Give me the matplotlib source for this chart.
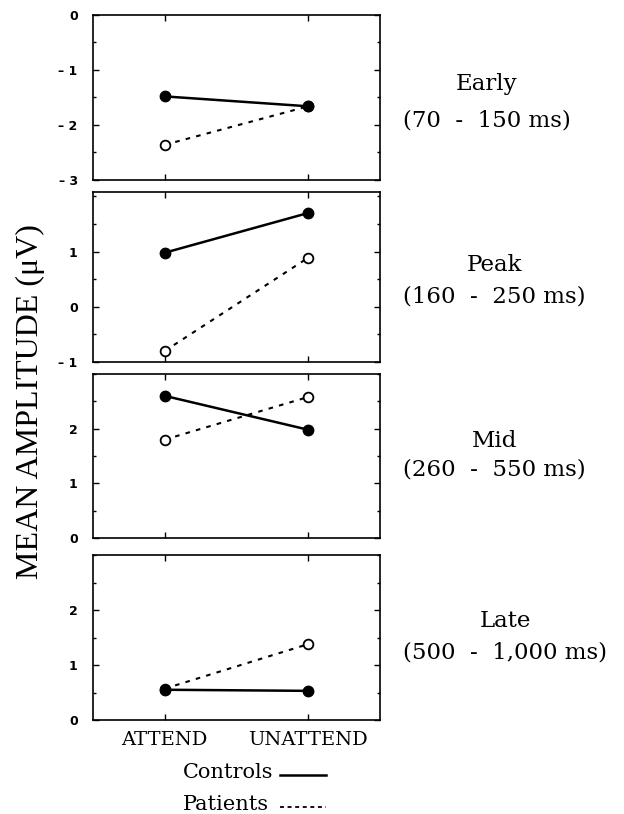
import numpy as np
import matplotlib.pyplot as plt
from matplotlib.ticker import MultipleLocator

# mean amplitudes (uV)
conditions = ['ATTEND', 'UNATTEND']
windows = ['Early', 'Peak', 'Mid', 'Late']
ranges = ['(70  -  150 ms)', '(160  -  250 ms)', '(260  -  550 ms)', '(500  -  1,000 ms)']
controls = [[-1.48, -1.66], [0.98, 1.70], [2.60, 1.98], [0.55, 0.53]]
patients = [[-2.36, -1.66], [-0.80, 0.89], [1.80, 2.58], [0.57, 1.38]]
ylims = [(-3, 0), (-1, 2.08), (0, 3), (0, 3)]
yticks = [[-3, -2, -1, 0], [-1, 0, 1], [0, 1, 2], [0, 1, 2]]

W, H = 624, 814
fig = plt.figure(figsize=(W / 100, H / 100), dpi=100)
renderer = fig.canvas.get_renderer()

# axes boxes in pixels: top, bottom
boxes = [(15, 180), (192, 362), (374, 538), (555, 720)]
left, right = 93, 380
# label rows (pixels from top): window name, time range
label_y = [(84, 120), (265, 297), (441, 470), (621, 653)]

serif = 'DejaVu Serif'
x = np.arange(len(conditions))

for i, (top, bot) in enumerate(boxes):
    ax = fig.add_axes([left / W, 1 - bot / H, (right - left) / W, (bot - top) / H])
    ax.plot(x, controls[i], color='black', lw=1.8, marker='o', ms=7.5,
            mfc='black', mec='black', zorder=3)
    ax.plot(x, patients[i], color='black', lw=1.5, ls=(0, (2.2, 3)),
            marker='o', ms=7, mfc='white', mec='black', mew=1.3, zorder=2)
    ax.set_xlim(-0.5, 1.5)
    ax.set_ylim(*ylims[i])
    ax.set_yticks(yticks[i])
    ax.set_yticklabels(['\u2013 ' + str(-t) if t < 0 else str(t) for t in yticks[i]],
                       fontfamily='DejaVu Sans', fontweight='bold', fontsize=9)
    ax.yaxis.set_minor_locator(MultipleLocator(0.5))
    ax.set_xticks(x)
    ax.tick_params(which='both', direction='in', top=True, right=True,
                   length=4, width=1, pad=11)
    ax.tick_params(which='minor', length=2.5)
    if i < 3:
        ax.set_xticklabels([])
    else:
        ax.set_xticklabels(conditions, fontfamily=serif, fontsize=14)
        ax.tick_params(axis='x', pad=8)
    for s in ax.spines.values():
        s.set_linewidth(1.2)
    # window label on the right: range left aligned, name centred over it
    t2 = fig.text(403 / W, 1 - label_y[i][1] / H, ranges[i], ha='left', va='center',
                  fontfamily=serif, fontsize=16.5)
    bb = t2.get_window_extent(renderer)
    fig.text((bb.x0 + bb.x1) / 2 / W, 1 - label_y[i][0] / H, windows[i],
             ha='center', va='center', fontfamily=serif, fontsize=16.5)

fig.text(30 / W, 1 - 402 / H, 'MEAN AMPLITUDE (\u03bcV)', rotation=90,
         ha='center', va='center', fontfamily='Liberation Serif', fontsize=23)

# legend drawn as text with line samples
fig.text(183 / W, 1 - 773 / H, 'Controls', ha='left', va='center',
         fontfamily=serif, fontsize=15)
fig.text(183 / W, 1 - 804 / H, 'Patients', ha='left', va='center',
         fontfamily=serif, fontsize=15)
fig.add_artist(plt.Line2D([280 / W, 326 / W], [1 - 775 / H, 1 - 775 / H],
                          color='black', lw=1.8))
fig.add_artist(plt.Line2D([280 / W, 326 / W], [1 - 807 / H, 1 - 807 / H],
                          color='black', lw=1.3, ls=(0, (2.2, 2))))

fig.savefig('out.png', dpi=100, facecolor='white')
